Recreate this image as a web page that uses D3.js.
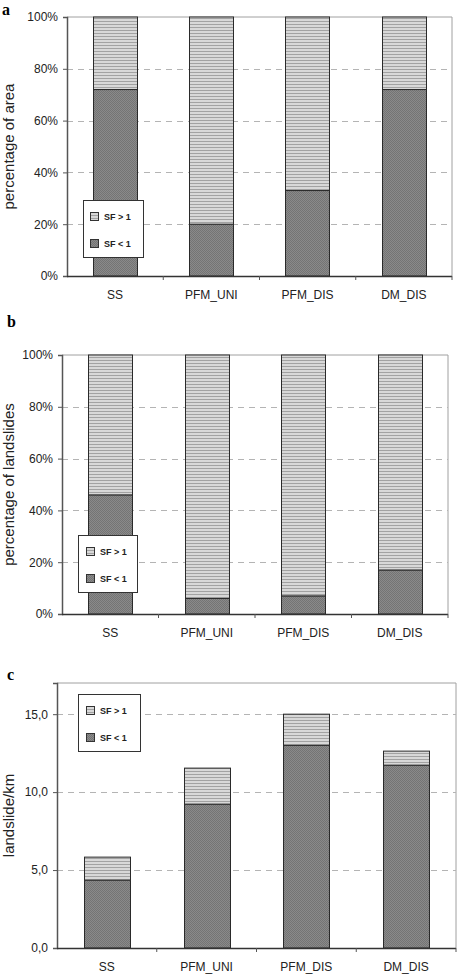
<!DOCTYPE html>
<html><head><meta charset="utf-8">
<script src="https://cdn.jsdelivr.net/npm/d3@7"></script>
<style>
html,body{margin:0;padding:0;background:#fff;}
svg{display:block;}
text{font-family:"Liberation Sans",Arial,sans-serif;fill:#222;}
</style></head>
<body>
<svg id="chart" width="459" height="978"></svg>
<script>
const categories = ["SS", "PFM_UNI", "PFM_DIS", "DM_DIS"];
const seriesNames = ["SF < 1", "SF > 1"];
const legendLabels = ["SF > 1", "SF < 1"];
// panel a: percentage of area
const areaBelow = [72, 20, 33, 72];
const areaAbove = [28, 80, 67, 28];
// panel b: percentage of landslides
const slidesBelow = [46, 6, 7, 17];
const slidesAbove = [54, 94, 93, 83];
// panel c: landslide/km
const densBelow = [4.35, 9.23, 13.0, 11.73];
const densAbove = [1.48, 2.31, 2.0, 0.9];
const pctTicks = [0, 20, 40, 60, 80, 100];
const densTicks = [0, 5, 10, 15];
const panelLetters = ["a", "b", "c"];
const yTitles = ["percentage of area", "percentage of landslides", "landslide/km"];

const svg = d3.select("#chart");
const defs = svg.append("defs");

// SF > 1 : light grey with horizontal stripes
const pHi = defs.append("pattern").attr("id", "pHi").attr("patternUnits", "userSpaceOnUse")
  .attr("width", 4).attr("height", 3);
pHi.append("rect").attr("width", 4).attr("height", 3).attr("fill", "#d8d8d8");
pHi.append("rect").attr("width", 4).attr("height", 1).attr("fill", "#a2a2a2");

// SF < 1 : dark grey fine checker
const pLo = defs.append("pattern").attr("id", "pLo").attr("patternUnits", "userSpaceOnUse")
  .attr("width", 2).attr("height", 2);
pLo.append("rect").attr("width", 2).attr("height", 2).attr("fill", "#8a8a8a");
pLo.append("rect").attr("width", 1).attr("height", 1).attr("fill", "#747474");
pLo.append("rect").attr("x", 1).attr("y", 1).attr("width", 1).attr("height", 1).attr("fill", "#747474");

const fills = {"SF < 1": "url(#pLo)", "SF > 1": "url(#pHi)"};

function panel(cfg) {
  const g = svg.append("g");
  const x = d3.scaleBand().domain(categories).range([cfg.x0, cfg.x1]).paddingInner(0.54).paddingOuter(0.27);
  const y = d3.scaleLinear().domain(cfg.domain).range([cfg.y1, cfg.y0]);

  // plot frame (top + right)
  g.append("path")
    .attr("d", `M${cfg.x0},${cfg.y0}H${cfg.x1}V${cfg.y1}`)
    .attr("fill", "none").attr("stroke", "#a0a0a0").attr("stroke-width", 1);

  // gridlines
  g.selectAll(".grid").data(cfg.ticks.filter(t => t > cfg.domain[0] && y(t) > cfg.y0 + 1))
    .enter().append("line")
    .attr("x1", cfg.x0).attr("x2", cfg.x1)
    .attr("y1", d => Math.round(y(d)) + 0.5).attr("y2", d => Math.round(y(d)) + 0.5)
    .attr("stroke", "#b4b4b4").attr("stroke-dasharray", "6,5").attr("stroke-width", 1);

  // stacked bars
  const rows = categories.map((c, i) => ({cat: c, "SF < 1": cfg.below[i], "SF > 1": cfg.above[i]}));
  const stack = d3.stack().keys(seriesNames)(rows);
  stack.forEach(layer => {
    g.selectAll(null).data(layer).enter().append("rect")
      .attr("x", d => Math.round(x(d.data.cat)) + 0.5)
      .attr("y", d => y(d[1]))
      .attr("width", Math.round(x.bandwidth()))
      .attr("height", d => y(d[0]) - y(d[1]))
      .attr("fill", fills[layer.key])
      .attr("stroke", "#2a2a2a").attr("stroke-width", 1);
  });

  // y axis
  const yAxis = d3.axisLeft(y).tickValues(cfg.ticks).tickSize(4).tickPadding(5).tickFormat(cfg.fmt);
  const ya = g.append("g").attr("transform", `translate(${cfg.x0},0)`).call(yAxis);
  ya.select(".domain").attr("stroke", "#555").attr("stroke-width", 1.5);
  ya.selectAll(".tick line").attr("stroke", "#555");
  ya.selectAll("text").attr("font-size", 12).attr("fill", "#222")
    .attr("font-family", "Liberation Sans, Arial, sans-serif");

  // x axis
  const boundaries = d3.range(1, categories.length + 1).map(i => cfg.x0 + i * x.step());
  const xa = g.append("g").attr("transform", `translate(0,${cfg.y1})`);
  xa.append("line").attr("x1", cfg.x0).attr("x2", cfg.x1).attr("y1", 0.5).attr("y2", 0.5)
    .attr("stroke", "#333").attr("stroke-width", 1.3);
  xa.selectAll(".bt").data(boundaries).enter().append("line")
    .attr("x1", d => d).attr("x2", d => d).attr("y1", 0).attr("y2", 4)
    .attr("stroke", "#555");
  xa.selectAll(".xl").data(categories).enter().append("text")
    .attr("x", d => x(d) + x.bandwidth() / 2).attr("y", 23)
    .attr("text-anchor", "middle").attr("font-size", 12).text(d => d);

  // y title
  g.append("text")
    .attr("transform", `translate(14,${(cfg.y0 + cfg.y1) / 2}) rotate(-90)`)
    .attr("text-anchor", "middle").attr("font-size", 15).text(cfg.title);

  // panel letter
  svg.append("text").attr("x", cfg.lx).attr("y", cfg.ly)
    .style("font-family", "'Liberation Serif','DejaVu Serif',serif").attr("font-weight", "bold")
    .attr("font-size", 16).style("fill", "#000").text(cfg.letter);

  // legend
  const lg = g.append("g").attr("transform", `translate(${cfg.lgx},${cfg.lgy})`);
  lg.append("rect").attr("x", 0.5).attr("y", 0.5).attr("width", cfg.lgw).attr("height", 57)
    .attr("fill", "#fff").attr("stroke", "#333");
  legendLabels.forEach((lab, i) => {
    const cy = 16 + i * 27;
    lg.append("rect").attr("x", cfg.swx + 0.5).attr("y", cy - 4 + 0.5).attr("width", 8).attr("height", 8)
      .attr("fill", fills[lab]).attr("stroke", "#333");
    lg.append("text").attr("x", cfg.swx + 14).attr("y", cy + 3.5)
      .attr("font-size", 9).attr("font-weight", "bold").text(lab);
  });
}

const pctFmt = d => d + "%";
const densFmt = d => d3.format(".1f")(d).replace(".", ",");

panel({x0: 67, x1: 452, y0: 17, y1: 276, domain: [0, 100], ticks: pctTicks, fmt: pctFmt,
  below: areaBelow, above: areaAbove, title: yTitles[0], letter: panelLetters[0], lx: 2, ly: 15,
  lgx: 83, lgy: 200, lgw: 60, swx: 7});
panel({x0: 62, x1: 448, y0: 355, y1: 614, domain: [0, 100], ticks: pctTicks, fmt: pctFmt,
  below: slidesBelow, above: slidesAbove, title: yTitles[1], letter: panelLetters[1], lx: 7, ly: 327,
  lgx: 78, lgy: 535, lgw: 59, swx: 8});
panel({x0: 57, x1: 456, y0: 683, y1: 948, domain: [0, 17], ticks: densTicks, fmt: densFmt,
  below: densBelow, above: densAbove, title: yTitles[2], letter: panelLetters[2], lx: 7, ly: 680,
  lgx: 78, lgy: 694, lgw: 62, swx: 8});
</script>
</body></html>
